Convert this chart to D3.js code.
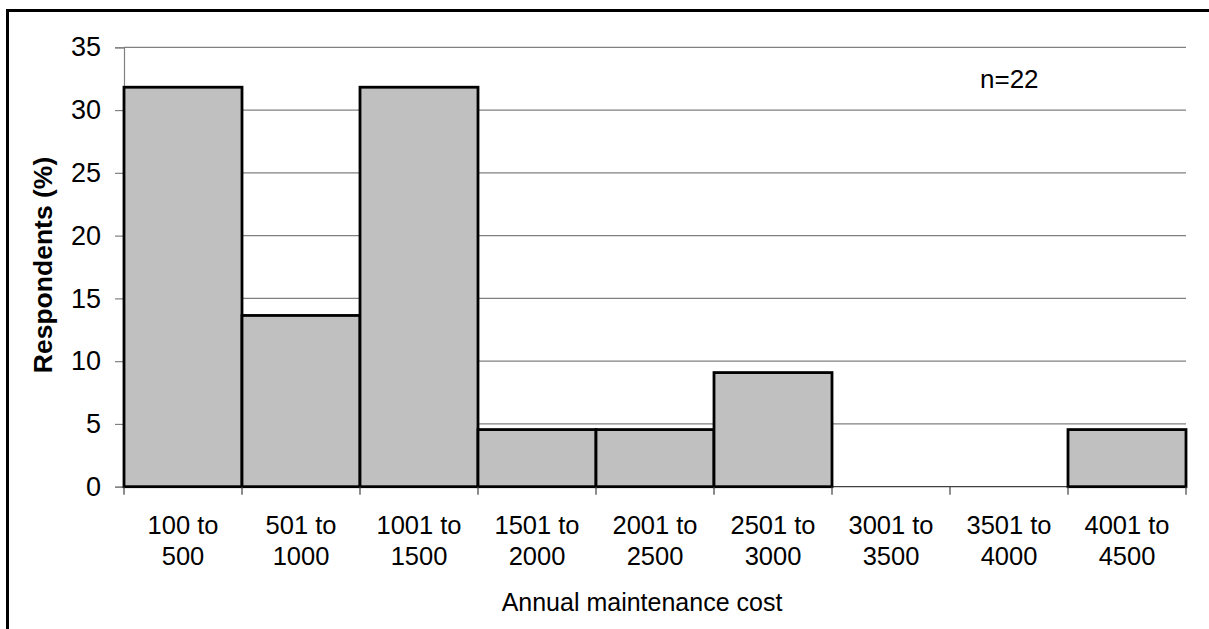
<!DOCTYPE html>
<html>
<head>
<meta charset="utf-8">
<script src="https://cdn.jsdelivr.net/npm/d3@7"></script>
<style>
  html, body { margin: 0; padding: 0; background: #fff; }
  svg { display: block; font-family: "Liberation Sans", Arial, sans-serif; }
</style>
</head>
<body>
<svg id="chart" width="1209" height="629"></svg>
<script>
const categories = [
  ["100 to", "500"], ["501 to", "1000"], ["1001 to", "1500"],
  ["1501 to", "2000"], ["2001 to", "2500"], ["2501 to", "3000"],
  ["3001 to", "3500"], ["3501 to", "4000"], ["4001 to", "4500"]
];
const values = [31.82, 13.64, 31.82, 4.55, 4.55, 9.09, 0, 0, 4.55];
const yTicks = [0, 5, 10, 15, 20, 25, 30, 35];
const yTitle = "Respondents (%)";
const xTitle = "Annual maintenance cost";
const note = "n=22";

(function () {
const svg = d3.select("#chart");
const mLeft = 124, mRight = 1186, mTop = 47.3, mBottom = 486.7;

// outer frame
svg.append("rect")
  .attr("x", 7.5).attr("y", 10.5)
  .attr("width", 1260).attr("height", 700)
  .attr("fill", "none").attr("stroke", "#000").attr("stroke-width", 3);

const x = d3.scaleBand().domain(d3.range(categories.length)).range([mLeft, mRight]).padding(0);
const y = d3.scaleLinear().domain([0, 35]).range([mBottom, mTop]);

// gridlines
svg.append("g").selectAll("line").data(yTicks.filter(d => d > 0)).join("line")
  .attr("x1", mLeft).attr("x2", mRight)
  .attr("y1", d => y(d)).attr("y2", d => y(d))
  .attr("stroke", "#808080").attr("stroke-width", 1.2);

// y axis
const yAxis = svg.append("g").attr("transform", `translate(${mLeft},0)`)
  .call(d3.axisLeft(y).tickValues(yTicks).tickSize(9).tickPadding(14));
yAxis.select(".domain").attr("stroke", "#808080").attr("stroke-width", 1.2);
yAxis.selectAll(".tick line").attr("stroke", "#808080").attr("stroke-width", 1.2);
yAxis.selectAll(".tick text").attr("font-size", 27).attr("fill", "#000")
  .attr("font-family", "Liberation Sans, Arial, sans-serif");

// x axis line
svg.append("line").attr("x1", mLeft).attr("x2", mRight).attr("y1", mBottom).attr("y2", mBottom)
  .attr("stroke", "#404040").attr("stroke-width", 1.2);

// bars
svg.append("g").selectAll("rect")
  .data(values.map((v, i) => ({v, i})).filter(d => d.v > 0)).join("rect")
  .attr("x", d => x(d.i))
  .attr("y", d => y(d.v))
  .attr("width", x.bandwidth())
  .attr("height", d => y(0) - y(d.v))
  .attr("fill", "#c0c0c0").attr("stroke", "#000").attr("stroke-width", 2.8);

// x ticks between categories
const boundaries = d3.range(categories.length + 1).map(i => mLeft + i * x.step());
svg.append("g").selectAll("line").data(boundaries).join("line")
  .attr("x1", d => d).attr("x2", d => d)
  .attr("y1", mBottom).attr("y2", mBottom + 8)
  .attr("stroke", "#404040").attr("stroke-width", 1.2);

// x tick labels
const xl = svg.append("g").selectAll("text").data(categories).join("text")
  .attr("x", (d, i) => x(i) + x.bandwidth() / 2)
  .attr("y", 534)
  .attr("text-anchor", "middle").attr("font-size", 25.5).attr("fill", "#000");
xl.append("tspan").attr("x", (d, i) => x(i) + x.bandwidth() / 2).attr("dy", 0).text(d => d[0]);
xl.append("tspan").attr("x", (d, i) => x(i) + x.bandwidth() / 2).attr("dy", 31).text(d => d[1]);

// x title
svg.append("text").attr("x", 642).attr("y", 611).attr("text-anchor", "middle")
  .attr("font-size", 25).attr("fill", "#000").text(xTitle);

// y title
svg.append("text").attr("transform", `translate(52,265) rotate(-90)`)
  .attr("text-anchor", "middle").attr("font-size", 26.5).attr("font-weight", "bold")
  .attr("fill", "#000").text(yTitle);

// note
svg.append("text").attr("x", 980).attr("y", 88).attr("font-size", 26).attr("fill", "#000").text(note);
})();
</script>
</body>
</html>
